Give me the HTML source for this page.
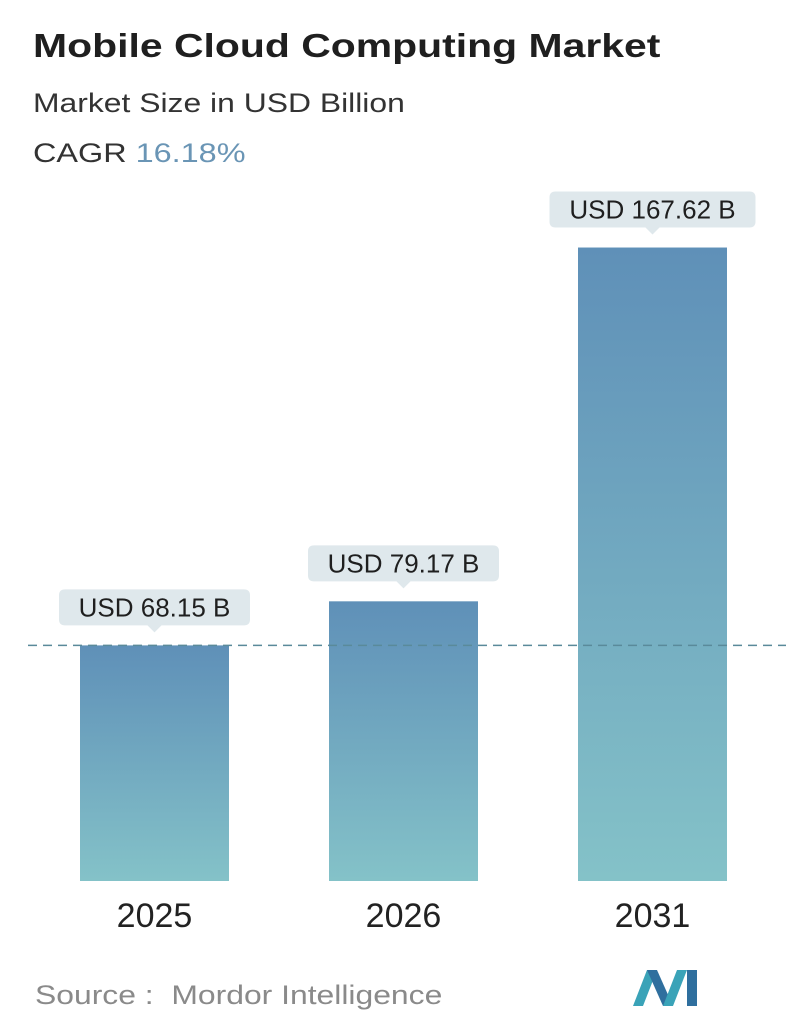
<!DOCTYPE html>
<html><head><meta charset="utf-8"><style>
body{margin:0;background:#fff;font-family:"Liberation Sans",sans-serif;}
#wrap{position:relative;width:796px;height:1034px;overflow:hidden;}
.t{position:absolute;white-space:nowrap;transform-origin:0 0;}
</style></head><body>
<div id="wrap">
<div class="t" style="left:33px;top:27px;font-size:33px;font-weight:bold;color:#1f1f1f;transform:scaleX(1.24);">Mobile Cloud Computing Market</div>
<div class="t" style="left:33px;top:88px;font-size:27px;color:#333;transform:scaleX(1.18);">Market Size in USD Billion</div>
<div class="t" style="left:33px;top:138px;font-size:27px;color:#333;transform:scaleX(1.2);">CAGR <span style="color:#6a95b5;">16.18%</span></div>
<svg id="chart" width="796" height="1034" style="position:absolute;left:0;top:0;">
<defs><linearGradient id="g" x1="0" y1="0" x2="0" y2="1"><stop offset="0" stop-color="#5f90b8"/><stop offset="1" stop-color="#84c2c8"/></linearGradient></defs>
</svg>
<div class="t" style="left:35px;top:980px;font-size:27px;color:#8a8a8a;transform:scaleX(1.18);">Source :&nbsp; Mordor Intelligence</div>
<svg width="70" height="40" style="position:absolute;left:633px;top:968px;">
<polygon points="0,38 14,2 24,2 10,38" fill="#3aa3b8"/>
<polygon points="14,2 24,2 40,38 30,38" fill="#2f6f9e"/>
<polygon points="30,38 44,2 54,2 40,38" fill="#3aa3b8"/>
<polygon points="54,2 64,2 64,38 54,38" fill="#2f6f9e"/>
</svg>
</div>
<script>
const categories=["2025","2026","2031"];
const values=[68.15,79.17,167.62];
const labels=["USD 68.15 B","USD 79.17 B","USD 167.62 B"];
const svg=document.getElementById('chart');
const NS="http://www.w3.org/2000/svg";
const base=881;
function yScale(v){return base-(4.0*v-37);}
const xLeft=[80,329,578];const bw=149;
function mk(t,a){const e=document.createElementNS(NS,t);for(const k in a)e.setAttribute(k,a[k]);svg.appendChild(e);return e;}
categories.forEach((c,i)=>{
 const x=xLeft[i], y=yScale(values[i]);
 const r=mk('rect',{x:x,y:y,width:bw,height:base-y,fill:'url(#g)'});
 
 
 const cx=x+bw/2, bh=36, bwid=labels[i].length*15+26, by=y-20-bh;
 const p=mk('path',{d:`M${cx-bwid/2+6},${by} H${cx+bwid/2-6} Q${cx+bwid/2},${by} ${cx+bwid/2},${by+6} V${by+bh-6} Q${cx+bwid/2},${by+bh} ${cx+bwid/2-6},${by+bh} H${cx+7} L${cx},${by+bh+7} L${cx-7},${by+bh} H${cx-bwid/2+6} Q${cx-bwid/2},${by+bh} ${cx-bwid/2},${by+bh-6} V${by+6} Q${cx-bwid/2},${by} ${cx-bwid/2+6},${by} Z`,fill:'#dfe8ec'});
 
 
 const t=mk('text',{x:cx,y:by+27,'text-anchor':'middle','font-size':26,fill:'#1f1f1f','font-family':'Liberation Sans, sans-serif'});
 t.textContent=labels[i];
 
 
 const xl=mk('text',{x:cx,y:927,'text-anchor':'middle','font-size':34,fill:'#222','font-family':'Liberation Sans, sans-serif'});
 xl.textContent=c;
 
 
});
const dl=mk('line',{x1:28,x2:786,y1:yScale(values[0]),y2:yScale(values[0]),stroke:'#5a8a9a','stroke-width':1.5,'stroke-dasharray':'9,6'});


</script>
</body></html>
